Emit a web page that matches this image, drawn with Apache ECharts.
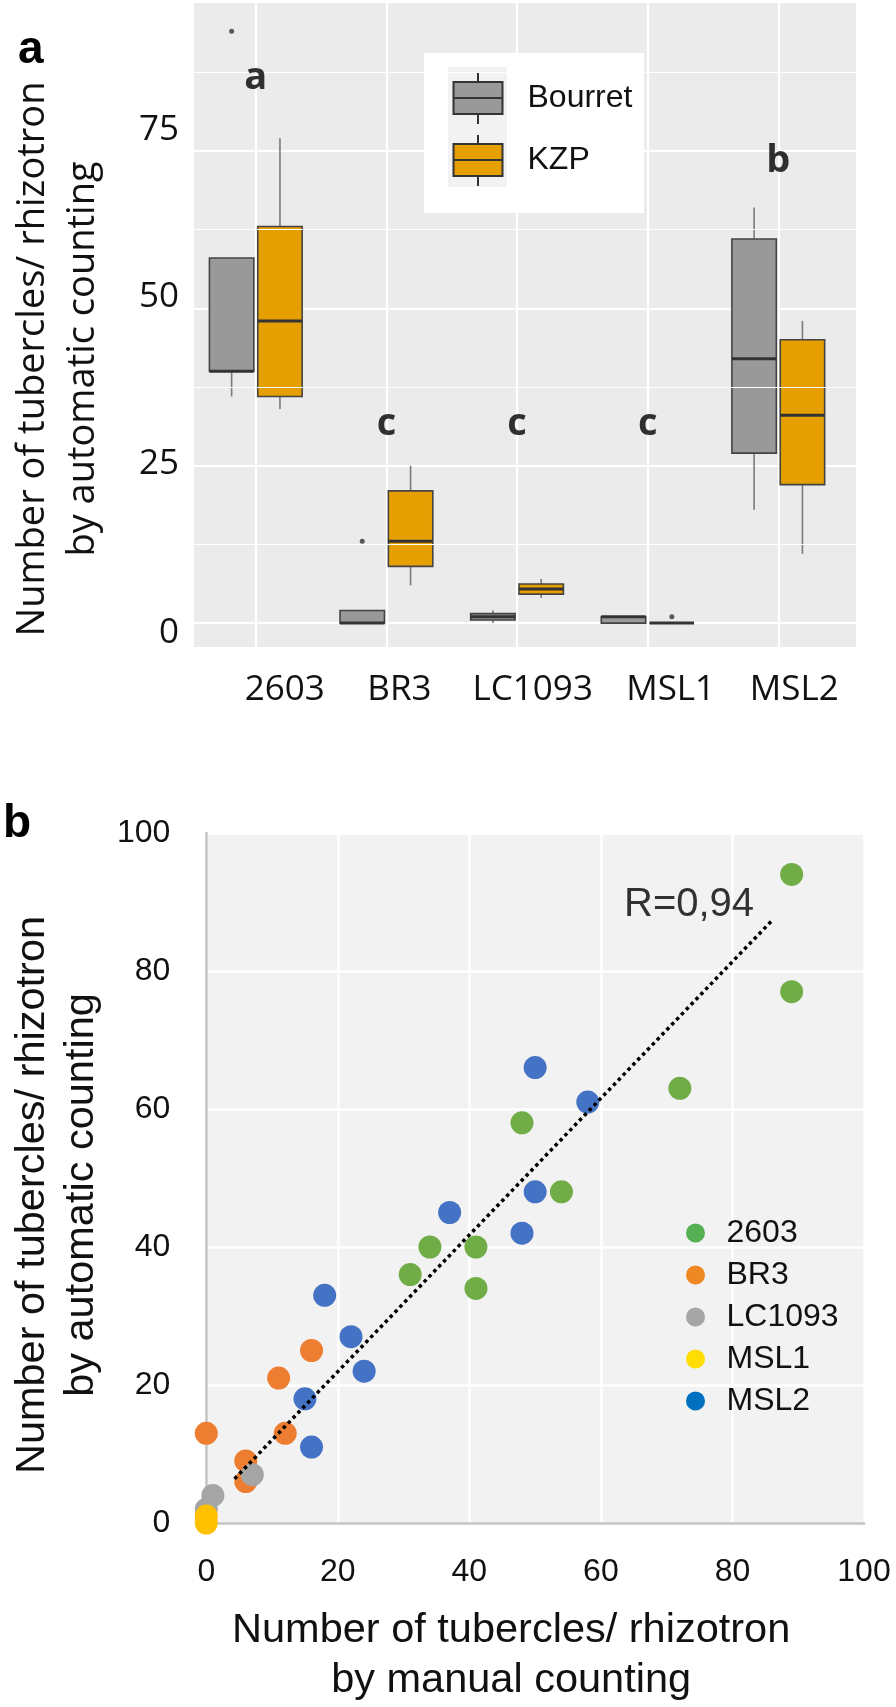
<!DOCTYPE html>
<html><head><meta charset="utf-8">
<script src="https://cdn.jsdelivr.net/npm/echarts@6/dist/echarts.min.js"></script>
<style>html,body{margin:0;padding:0;background:#fff}#c{width:896px;height:1707px}</style>
</head><body><div id="c"></div>
<script>
// ---------- Panel a: box plots ----------
const genotypes = ['2603', 'BR3', 'LC1093', 'MSL1', 'MSL2'];
// [min, Q1, median, Q3, max] per genotype
const bourretBox = [[36, 40, 40, 58, 58], [0, 0, 0, 2, 2], [0, 0.5, 1, 1.5, 2], [0, 0, 1, 1, 1], [18, 27, 42, 61, 66]];
const kzpBox = [[34, 36, 48, 63, 77], [6, 9, 13, 21, 25], [4, 4.6, 5.4, 6.2, 7], [0, 0, 0, 0, 0], [11, 22, 33, 45, 48]];
// outliers: [genotype index, value]
const bourretOutliers = [[0, 94], [1, 13]];
const kzpOutliers = [[3, 1]];
const groupLetters = ['a', 'c', 'c', 'c', 'b'];
const letterLevels = [86.6, 31.6, 31.6, 31.6, 73.3];
const yTicksA = [0, 25, 50, 75];
const yMinorA = [12.5, 37.5, 62.5, 87.5];
// where the reference prints its tick labels (slightly off the grid lines)
const yLabelAtA = [-1.6, 25.3, 51.8, 78.3];
const xLabelAtA = [1.222, 2.10, 3.12, 4.176, 5.122];

// ---------- Panel b: scatter ----------
const pts2603 = [[89, 94], [89, 77], [72, 63], [48, 58], [54, 48], [34, 40], [41, 40], [31, 36], [41, 34]];
const ptsBR3 = [[16, 25], [11, 21], [0, 13], [12, 13], [6, 9], [6, 6]];
const ptsLC1093 = [[0, 2], [1, 4], [7, 7]];
const ptsMSL1 = [[0, 0], [0, 1]];
const ptsMSL2 = [[50, 66], [58, 61], [50, 48], [37, 45], [48, 42], [18, 33], [22, 27], [24, 22], [15, 18], [16, 11]];
const trendLine = [[4.3, 6.4], [86, 87.3]];
const rText = 'R=0,94';
const rTextAt = [73.4, 89.6];

// ---------- styling ----------
const DODGE = 0.185, HALF = 0.17;
const FA = 'Open Sans';
const FB = 'Liberation Sans';
const boxIcon = 'path://M24.5,0 L24.5,9 M0,9 L49,9 L49,41 L0,41 Z M0,25 L49,25 M24.5,41 L24.5,51';

function boxRenderer(offset, fill) {
  return function (params, api) {
    const x = api.value(0) + offset;
    const lo = api.value(1), q1 = api.value(2), med = api.value(3), q3 = api.value(4), hi = api.value(5);
    const pTL = api.coord([x - HALF, q3]);
    const pBR = api.coord([x + HALF, q1]);
    const cx = api.coord([x, med])[0];
    const yLo = api.coord([x, lo])[1], yHi = api.coord([x, hi])[1], yMed = api.coord([x, med])[1];
    return {
      type: 'group', children: [
        { type: 'line', shape: { x1: cx, y1: yHi, x2: cx, y2: pTL[1] }, style: { stroke: '#7a7a7a', lineWidth: 1.6 } },
        { type: 'line', shape: { x1: cx, y1: pBR[1], x2: cx, y2: yLo }, style: { stroke: '#7a7a7a', lineWidth: 1.6 } },
        { type: 'rect', shape: { x: pTL[0], y: pTL[1], width: pBR[0] - pTL[0], height: pBR[1] - pTL[1] },
          style: { fill: fill, stroke: '#444', lineWidth: 1.6 } },
        { type: 'line', shape: { x1: pTL[0], y1: yMed, x2: pBR[0], y2: yMed }, style: { stroke: '#333', lineWidth: 3 } }
      ]
    };
  };
}

const chart = echarts.init(document.getElementById('c'), null, { renderer: 'canvas' });
const scatterColors = ['#70AD47', '#ED7D31', '#A5A5A5', '#FFC000', '#4472C4'];
const legendColors = ['#55B054', '#EE8822', '#A6A6A6', '#FFDD00', '#0070C0'];
const scatterSets = [pts2603, ptsBR3, ptsLC1093, ptsMSL1, ptsMSL2];

const option = {
  animation: false,
  backgroundColor: '#fff',
  title: [
    { text: 'a', left: 18, top: 27, padding: 0, textStyle: { fontFamily: FB, fontSize: 46, fontWeight: 'bold', color: '#000' } },
    { text: 'b', left: 3, top: 801, padding: 0, textStyle: { fontFamily: FB, fontSize: 46, fontWeight: 'bold', color: '#000' } }
  ],
  // legend frame of panel a: white box with a light key background
  graphic: [
    { type: 'rect', z: 4, silent: true, shape: { x: 424, y: 53, width: 220, height: 160 }, style: { fill: '#fff' } },
    { type: 'rect', z: 4, silent: true, shape: { x: 448, y: 67, width: 59, height: 120 }, style: { fill: '#F2F2F2' } }
  ],
  grid: [
    { left: 192, top: 3, width: 664, height: 644, show: true, backgroundColor: '#EBEBEB', borderWidth: 0 },
    { left: 188, top: 833, width: 676, height: 691, show: true, backgroundColor: '#F2F2F2', borderWidth: 0 }
  ],
  legend: [
    {
      data: ['Bourret', 'KZP'], orient: 'vertical', left: 424, top: 53, z: 8,
      padding: [19, 11, 30, 28.5],
      itemWidth: 89, itemHeight: 51, itemGap: 9, icon: boxIcon,
      itemStyle: { borderColor: '#333', borderWidth: 2 },
      textStyle: { fontFamily: FB, fontSize: 32, color: '#111' }
    },
    {
      data: genotypes.map((g, i) => ({ name: g, itemStyle: { color: legendColors[i] } })),
      orient: 'vertical', left: 686, top: 1217, padding: 0,
      itemWidth: 52, itemHeight: 19, itemGap: 10, icon: 'circle',
      textStyle: { fontFamily: FB, fontSize: 32, lineHeight: 32, color: '#111' }
    }
  ],
  xAxis: [
    {
      gridIndex: 0, type: 'value', min: 0.527, max: 5.595,
      axisLine: { show: false },
      axisTick: { show: false, customValues: [1, 2, 3, 4, 5] },
      axisLabel: { customValues: xLabelAtA, formatter: v => genotypes[Math.round(v) - 1],
        margin: 26, fontFamily: FA, fontSize: 35, color: '#111' },
      splitLine: { show: true, lineStyle: { color: '#fff', width: 2.2 } }
    },
    {
      gridIndex: 1, type: 'value', min: 0, max: 100, interval: 20,
      axisLine: { show: true, onZero: false, lineStyle: { color: '#C4C4C4', width: 2.5 } },
      axisTick: { show: false },
      axisLabel: { margin: 33, fontFamily: FB, fontSize: 32, color: '#111' },
      splitLine: { show: true, lineStyle: { color: '#fff', width: 2.5 } },
      name: 'Number of tubercles/ rhizotron\nby manual counting',
      nameLocation: 'middle', nameGap: 83,
      nameTextStyle: { fontFamily: FB, fontSize: 41.5, lineHeight: 50, color: '#111', padding: [0, 48, 0, 0] }
    }
  ],
  yAxis: [
    {
      gridIndex: 0, type: 'value', min: -3.8, max: 98.5,
      axisLine: { show: false },
      axisTick: { show: false, customValues: yTicksA },
      axisLabel: { customValues: yLabelAtA, formatter: v => String(yTicksA[Math.round(v / 25)]),
        margin: 15, fontFamily: FA, fontSize: 35, color: '#111' },
      splitLine: { show: true, lineStyle: { color: '#fff', width: 2.2 } },
      name: 'Number of tubercles/ rhizotron\nby automatic counting',
      nameLocation: 'middle', nameGap: 86, nameRotate: 90,
      nameTextStyle: { fontFamily: FA, fontSize: 38, lineHeight: 50, color: '#111', padding: [0, 68, 0, 0] }
    },
    {
      gridIndex: 1, type: 'value', min: 0, max: 100, interval: 20,
      axisLine: { show: true, onZero: false, lineStyle: { color: '#C4C4C4', width: 2.5 } },
      axisTick: { show: false },
      axisLabel: { margin: 36, fontFamily: FB, fontSize: 32, color: '#111' },
      splitLine: { show: true, lineStyle: { color: '#fff', width: 2.5 } },
      name: 'Number of tubercles/ rhizotron\nby automatic counting',
      nameLocation: 'middle', nameGap: 93, nameRotate: 90,
      nameTextStyle: { fontFamily: FB, fontSize: 41.5, lineHeight: 49, color: '#111', padding: [0, 34, 0, 0] }
    }
  ],
  series: [
    {
      name: 'minorGrid', type: 'line', xAxisIndex: 0, yAxisIndex: 0, data: [], z: 1, silent: true,
      markLine: { silent: true, symbol: 'none', label: { show: false },
        lineStyle: { color: '#fff', width: 1.2, type: 'solid' }, data: yMinorA.map(v => ({ yAxis: v })) }
    },
    {
      name: 'Bourret', type: 'custom', xAxisIndex: 0, yAxisIndex: 0, z: 3,
      itemStyle: { color: '#999999' },
      renderItem: boxRenderer(-DODGE, '#999999'),
      encode: { x: 0, y: [1, 2, 3, 4, 5] },
      data: bourretBox.map((b, i) => [i + 1].concat(b))
    },
    {
      name: 'KZP', type: 'custom', xAxisIndex: 0, yAxisIndex: 0, z: 3,
      itemStyle: { color: '#E69F00' },
      renderItem: boxRenderer(DODGE, '#E69F00'),
      encode: { x: 0, y: [1, 2, 3, 4, 5] },
      data: kzpBox.map((b, i) => [i + 1].concat(b))
    },
    {
      name: 'Bourret outliers', type: 'scatter', xAxisIndex: 0, yAxisIndex: 0, z: 4,
      symbolSize: 5, itemStyle: { color: '#333' },
      data: bourretOutliers.map(o => [o[0] + 1 - DODGE, o[1]])
    },
    {
      name: 'KZP outliers', type: 'scatter', xAxisIndex: 0, yAxisIndex: 0, z: 4,
      symbolSize: 5, itemStyle: { color: '#333' },
      data: kzpOutliers.map(o => [o[0] + 1 + DODGE, o[1]])
    },
    {
      name: 'letters', type: 'scatter', xAxisIndex: 0, yAxisIndex: 0, z: 5, silent: true,
      symbolSize: 0.1, itemStyle: { color: 'rgba(0,0,0,0)' },
      label: { show: true, position: 'inside', formatter: p => groupLetters[p.dataIndex],
        fontFamily: FA, fontSize: 38, fontWeight: 'bold', color: '#000' },
      data: letterLevels.map((v, i) => [i + 1, v])
    }
  ].concat(genotypes.map((g, i) => ({
    name: g, type: 'scatter', xAxisIndex: 1, yAxisIndex: 1, z: 3,
    symbolSize: 23, itemStyle: { color: scatterColors[i], opacity: 1 },
    data: scatterSets[i]
  }))).concat([
    {
      name: 'trend', type: 'line', xAxisIndex: 1, yAxisIndex: 1, z: 6, silent: true,
      symbol: 'none', lineStyle: { color: '#000', width: 3.5, type: [3.5, 3.5] },
      data: trendLine
    },
    {
      name: 'rlabel', type: 'scatter', xAxisIndex: 1, yAxisIndex: 1, z: 6, silent: true,
      symbolSize: 0.1, itemStyle: { color: 'rgba(0,0,0,0)' },
      label: { show: true, position: 'inside', formatter: rText, fontFamily: FB, fontSize: 40, color: '#000' },
      data: [rTextAt]
    }
  ])
};
chart.setOption(option);
</script>
</body></html>
